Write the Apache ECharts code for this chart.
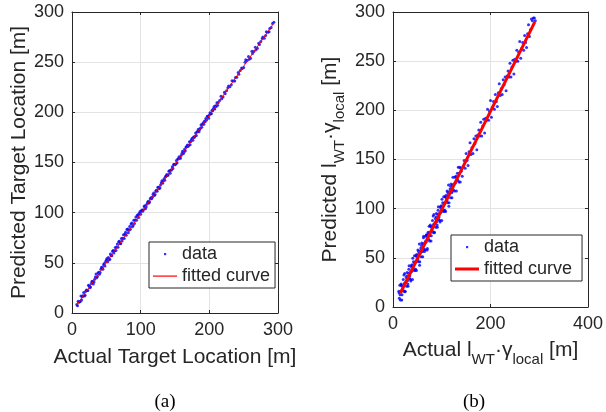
<!DOCTYPE html>
<html>
<head>
<meta charset="utf-8">
<script src="https://cdn.jsdelivr.net/npm/echarts@6/dist/echarts.min.js"></script>
<style>html,body{margin:0;padding:0;background:#fff;}#c{width:606px;height:412px;}</style>
</head>
<body>
<div id="c"></div>
<script>
// ---- Panel (a): Actual vs Predicted Target Location ----
var aActual = [7,8,10,12,15,18,20,23,25,27,30,32,34,36,38,40,42,44,45,47,48,50,52,53,55,56,58,60,61,63,64,66,67,69,70,72,73,75,76,78,79,81,82,84,85,87,88,90,91,93,94,96,97,99,100,102,104,106,108,110,112,114,116,118,120,122,124,126,128,130,133,136,139,142,145,148,151,154,157,160,163,166,170,174,178,182,186,190,194,198,202,206,210,215,220,225,230,235,240,245,250,255,260,265,270,275,280,285,290,294];
var aPredicted = [8.5,7.2,10.8,11.5,16.2,17.0,21.8,22.4,26.9,25.8,31.6,30.9,35.8,35.2,39.9,38.7,43.6,45.1,43.5,49.3,46.9,52.8,51.0,55.4,53.6,58.7,57.1,62.3,59.8,65.2,62.4,68.8,65.5,71.6,68.9,74.3,71.8,77.9,74.2,80.5,77.6,83.8,80.1,86.2,83.4,89.7,86.0,92.4,89.1,95.8,92.5,97.9,95.3,101.2,98.4,102.6,102.9,106.8,105.7,110.2,109.6,113.9,113.8,118.1,117.0,121.6,121.3,125.4,124.9,129.8,131.6,135.9,137.0,141.8,142.6,147.9,148.4,153.5,154.6,158.9,160.1,165.4,167.1,172.6,174.8,180.3,182.9,188.2,190.5,195.8,198.6,203.9,205.7,211.9,215.3,221.6,225.4,231.3,234.9,241.8,244.6,251.7,253.9,260.6,263.8,270.7,273.9,279.8,284.6,289.9];
var aActual2 = [9,11,13,14,16,17,19,21,22,24,26,28,29,31,33,35,37,39,41,43,46,49,51,54,57,59,62,65,68,71,74,77,80,83,86,89,92,95,98,101,103,105,107,109,111,113,115,117,119,121,123,125,127,129,131,132,134,135,137,138,140,141,143,144,146,147,149,150,152,153,155,156,158,159,161,162,164,165,167,168,169,171,172,173,175,176,177,179,180,181,183,184,185,187,188,189,191,192,193,195,196,197,199,200,201,203,204,205,207,208,209,211,212,213,217,218,222,223,227,228,232,233,237,238,242,243,247,248,252,253,257,258,262,263,267,268,272,273,277,278,282,283,287,288,292];
var aPredicted2 = [11.8,11.2,17.0,13.0,17.2,20.4,17.6,22.8,22.4,27.6,25.2,29.4,31.4,28.9,33.6,38.8,36.3,40.7,40.4,45.5,48.0,51.4,54.2,53.1,57.4,61.5,62.1,65.9,71.0,69.3,74.4,78.4,83.1,82.5,88.7,87.2,92.6,97.1,99.3,101.8,101.3,106.1,104.0,108.3,111.4,110.6,114.8,115.4,119.6,118.2,122.4,125.4,123.9,127.5,131.8,129.3,133.7,132.4,136.5,138.1,137.5,141.3,139.3,142.5,145.7,143.9,148.1,147.7,151.9,149.5,153.7,155.8,154.2,156.9,161.2,158.7,163.1,161.8,165.8,167.4,165.9,170.7,167.6,170.9,174.1,172.3,175.5,176.1,179.3,177.0,181.1,183.2,180.7,184.3,187.6,185.1,189.5,188.2,191.3,193.9,192.3,196.1,194.1,197.4,199.5,198.7,202.0,201.6,205.7,203.4,206.6,209.6,207.1,209.8,216.0,213.5,219.9,218.6,224.6,226.2,227.6,231.4,231.3,234.6,239.7,237.9,244.1,243.6,249.8,252.4,255.6,252.9,260.9,258.7,264.9,262.4,268.8,267.5,273.5,275.1,276.5,280.3,280.2,283.5,288.6];
var aFitX = [7, 294];
var aFitY = [8, 289];

// ---- Panel (b): Actual vs Predicted l_WT * gamma_local ----
var bActual = [12,13,14,15,16,17,18,19,20,21,22,23,24,25,26,27,28,29,30,31,32,33,34,35,36,37,38,39,40,41,42,43,44,45,46,47,48,49,50,51,52,53,54,55,56,57,58,59,60,61,62,63,64,65,66,67,68,69,70,71,72,73,74,75,76,77,78,79,80,81,82,83,84,85,86,87,88,89,90,91,92,93,94,95,96,97,98,99,100,101,102,103,104,105,106,107,108,109,110,111,112,113,114,115,116,117,118,119,120,121,122,123,124,125,126,127,128,129,130,131,132,133,134,135,136,137,138,139,140];
var bPredicted = [16,9,22,7,16,22,7,21,18,28,16,24,34,16,25,30,21,35,27,21,34,42,29,35,28,42,36,43,28,42,46,39,52,37,46,52,37,51,48,58,46,54,64,46,55,60,51,65,57,51,64,72,59,65,58,72,66,73,58,72,76,69,82,67,76,82,67,81,78,88,76,84,94,76,85,90,81,95,87,81,94,102,89,95,88,102,96,103,88,102,106,99,112,97,106,112,97,111,108,118,106,114,124,106,115,120,111,125,117,111,124,132,119,125,118,132,126,133,118,132,136,129,142,127,136,142,127,141,138];
var bActual2 = [142,144,146,148,150,152,154,156,158,160,162,164,166,168,170,172,174,176,178,180,182,184,186,188,190,192,194,196,198,200,202,204,206,208,210,212,214,216,218,220,222,224,226,228,230,232,234,236,238,240,242,244,246,248,250,252,254,256,258,260,262,264,266,268,270,272,274,276,278,280,282,284,286,288,290,292];
var bPredicted2 = [133,143,149,141,156,149,144,158,167,155,162,156,171,166,174,160,175,180,174,188,174,184,191,177,192,190,201,190,199,210,193,203,209,201,216,209,204,218,227,215,222,216,231,226,234,220,235,240,234,248,234,244,251,237,252,250,261,250,259,270,253,263,269,261,276,269,264,278,287,275,282,293,291,294,294,291];
var bActual3 = [12.5,14.5,16.5,18.5,20.5,22.5,24.5,26.5,28.5,30.5,32.5,34.5,36.5,38.5,40.5,42.5,44.5,46.5,48.5,50.5,52.5,54.5,56.5,58.5,60.5,62.5,64.5,66.5,68.5,70.5,72.5,74.5,76.5,78.5,80.5,82.5,84.5,86.5,88.5,90.5,92.5,94.5,96.5,98.5,100.5,102.5,104.5,106.5,108.5,110.5,112.5,114.5,116.5,118.5,120.5];
var bPredicted3 = [14.5,12.5,23.5,12.5,21.5,32.5,15.5,25.5,31.5,23.5,38.5,31.5,26.5,40.5,49.5,37.5,44.5,38.5,53.5,48.5,56.5,42.5,57.5,62.5,56.5,70.5,56.5,66.5,73.5,59.5,74.5,72.5,83.5,72.5,81.5,92.5,75.5,85.5,91.5,83.5,98.5,91.5,86.5,100.5,109.5,97.5,104.5,98.5,113.5,108.5,116.5,102.5,117.5,122.5,116.5];
var bFitX = [15, 291];
var bFitY = [14, 290];

// ---- Axis ticks ----
var aXTicks = {min: 0, max: 300, interval: 100};
var aYTicks = {min: 0, max: 300, interval: 50};
var bXTicks = {min: 0, max: 400, interval: 200};
var bYTicks = {min: 0, max: 300, interval: 50};

function zip(x, y) { return x.map(function (v, i) { return [v, y[i]]; }); }

var FONT = "'Liberation Sans', Arial, Helvetica, sans-serif";
var INK = '#262626';
var GRIDC = '#e3e3e3';

function mainAxis(pos, ticks, gridIndex, name, nameGap, rich) {
  var ax = {
    type: 'value', gridIndex: gridIndex, position: pos,
    min: ticks.min, max: ticks.max, interval: ticks.interval,
    axisLine: {show: true, onZero: false, lineStyle: {color: INK, width: 1}},
    axisTick: {show: true, inside: true, length: 3, lineStyle: {color: INK}},
    axisLabel: {show: true, color: INK, fontSize: 18, fontFamily: FONT, margin: 8},
    splitLine: {show: true, lineStyle: {color: GRIDC, width: 1}},
    name: name, nameLocation: 'middle', nameGap: nameGap,
    nameTextStyle: {color: INK, fontSize: 21, fontFamily: FONT}
  };
  if (rich) ax.nameTextStyle.rich = rich;
  return ax;
}
function boxAxis(pos, ticks, gridIndex) {
  return {
    type: 'value', gridIndex: gridIndex, position: pos,
    min: ticks.min, max: ticks.max, interval: ticks.interval,
    axisLine: {show: true, onZero: false, lineStyle: {color: INK, width: 1}},
    axisTick: {show: true, inside: true, length: 3, lineStyle: {color: INK}},
    axisLabel: {show: false},
    splitLine: {show: false}
  };
}

var rich = {
  m: {fontSize: 21, fontFamily: FONT, color: INK, verticalAlign: 'top'},
  s: {fontSize: 15, fontFamily: FONT, color: INK, verticalAlign: 'top', padding: [12, 0, 0, 0]}
};
var bXName = '{m|Actual l}{s|WT}{m|·γ}{s|local}{m| [m]}';
var bYName = '{m|Predicted l}{s|WT}{m|·γ}{s|local}{m| [m]}';

var dotIcon = 'path://M0,0M24,14M11,6h2.2v2.2h-2.2z';
var thinLineIcon = 'path://M0,0M24,14M0,6.5h24v1.2h-24z';
var thickLineIcon = 'path://M0,0M24,14M0,5.5h24v3h-24z';

function legend(left, top, names, lineIcon) {
  return {
    left: left, top: top, orient: 'vertical',
    data: [{name: names[0], icon: dotIcon}, {name: names[1], icon: lineIcon}],
    itemWidth: 24, itemHeight: 14, itemGap: 4,
    padding: [3, 5, 3, 4],
    backgroundColor: '#ffffff', borderColor: INK, borderWidth: 1, borderRadius: 0,
    textStyle: {color: INK, fontSize: 18, fontFamily: FONT},
    selectedMode: false
  };
}

var option = {
  animation: false,
  backgroundColor: '#ffffff',
  title: [
    {text: '(a)', left: 160, top: 388, textAlign: 'center', textStyle: {fontFamily: "'Liberation Serif', 'Times New Roman', serif", fontSize: 19, fontWeight: 'normal', color: '#000'}},
    {text: '(b)', left: 469, top: 388, textAlign: 'center', textStyle: {fontFamily: "'Liberation Serif', 'Times New Roman', serif", fontSize: 19, fontWeight: 'normal', color: '#000'}}
  ],
  grid: [
    {left: 72, top: 12, width: 206, height: 301},
    {left: 393, top: 12, width: 197, height: 295}
  ],
  xAxis: [
    mainAxis('bottom', aXTicks, 0, 'Actual Target Location [m]', 34),
    boxAxis('top', aXTicks, 0),
    mainAxis('bottom', bXTicks, 1, bXName, 33, rich),
    boxAxis('top', bXTicks, 1)
  ],
  yAxis: [
    mainAxis('left', aYTicks, 0, 'Predicted Target Location [m]', 40),
    boxAxis('right', aYTicks, 0),
    mainAxis('left', bYTicks, 1, bYName, 46, rich),
    boxAxis('right', bYTicks, 1)
  ],
  legend: [
    legend(149, 242, ['data', 'fitted curve'], thinLineIcon),
    legend(451, 235, ['data ', 'fitted curve '], thickLineIcon)
  ],
  series: [
    {name: 'data', type: 'scatter', xAxisIndex: 0, yAxisIndex: 0,
      data: zip(aActual, aPredicted).concat(zip(aActual2, aPredicted2)),
      symbol: 'circle', symbolSize: 3, itemStyle: {color: '#0000ff'}},
    {name: 'fitted curve', type: 'line', xAxisIndex: 0, yAxisIndex: 0, data: zip(aFitX, aFitY),
      symbol: 'none', lineStyle: {color: '#ff0000', width: 1}, itemStyle: {color: '#ff0000'}},
    {name: 'data ', type: 'scatter', xAxisIndex: 2, yAxisIndex: 2,
      data: zip(bActual, bPredicted).concat(zip(bActual2, bPredicted2), zip(bActual3, bPredicted3)),
      symbol: 'circle', symbolSize: 3, itemStyle: {color: '#0000ff'}},
    {name: 'fitted curve ', type: 'line', xAxisIndex: 2, yAxisIndex: 2, data: zip(bFitX, bFitY),
      symbol: 'none', lineStyle: {color: '#ff0000', width: 3}, itemStyle: {color: '#ff0000'}}
  ]
};

var chart = echarts.init(document.getElementById('c'), null, {renderer: 'canvas'});
chart.setOption(option);
</script>
</body>
</html>
